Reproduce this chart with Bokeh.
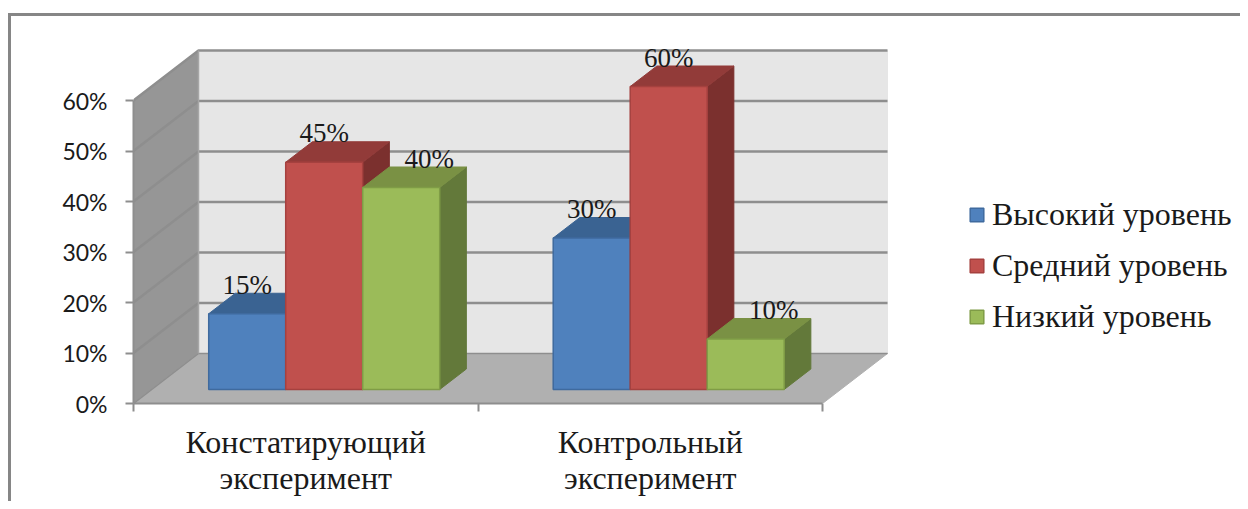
from bokeh.plotting import figure
from bokeh.embed import file_html
from bokeh.resources import INLINE
from bokeh.core.properties import value
from bokeh.models import (FixedTicker, PrintfTickFormatter, Range1d, Legend, LegendItem,
                          LinearAxis)

category_line1 = ["Констатирующий", "Контрольный"]
category_line2 = ["эксперимент", "эксперимент"]
series_names = ["Высокий уровень", "Средний уровень", "Низкий уровень"]
high = [15, 30]
mid = [45, 60]
low = [40, 10]
y_ticks = [0, 10, 20, 30, 40, 50, 60]

front_colors = ["#4F81BD", "#C0504D", "#9BBB59"]
edge_colors = ["#3F6A9E", "#A5413F", "#7F9C46"]
top_colors = ["#3A6392", "#923B39", "#7A9144"]
side_colors = ["#2F5078", "#7B302E", "#63793A"]
GRID = "#8E8E8E"
TEXT = "#1A1A1A"

W, H = 1240, 501
LEFT, BOTTOM = 133, 98
PX_X = 344.5      # pixels per category
PX_Y = 5.05       # pixels per percent
DX = 65 / PX_X    # depth of the 3D box in x units
DY = 50 / PX_Y    # depth of the 3D box in y units
D0, D1 = 0.28, 0.69
GAP = 0.1655
BAR = 0.2235


def pr(x, v, d):
    return x + d * DX, v + d * DY


p = figure(width=W, height=H, output_backend="svg", toolbar_location=None,
           x_range=Range1d(0, (W - LEFT) / PX_X), y_range=Range1d(0, (H - BOTTOM) / PX_Y),
           min_border_left=LEFT, min_border_bottom=BOTTOM, min_border_top=0, min_border_right=0,
           outline_line_color=None, background_fill_alpha=0, border_fill_alpha=0)
p.xgrid.visible = False
p.ygrid.visible = False

# chart border: only the top and left edges are inside the picture
p.styles = {
    "background-image": "linear-gradient(#868686,#868686),linear-gradient(#868686,#868686)",
    "background-size": "100% 3px,3px 100%",
    "background-position": "8px 13px,8px 13px",
    "background-repeat": "no-repeat",
}

n = len(category_line1)
vmax = y_ticks[-1]


def poly(points, fill, line=None, lw=1):
    xs = [a for a, _ in points]
    ys = [b for _, b in points]
    return p.patch(xs, ys, fill_color=fill, line_color=line or fill, line_width=lw)


# walls and floor
poly([pr(0, vmax, 1), pr(n, vmax, 1), pr(n, 0, 1), pr(0, 0, 1)], "#E6E6E6")
poly([pr(0, 0, 0), pr(0, 0, 1), pr(0, vmax, 1), pr(0, vmax, 0)], "#969696")
poly([pr(0, 0, 0), pr(n, 0, 0), pr(n, 0, 1), pr(0, 0, 1)], "#B0B0B0")
for t in y_ticks:
    a, b, c = pr(0, t, 0), pr(0, t, 1), pr(n, t, 1)
    p.line([a[0], b[0], c[0]], [a[1], b[1], c[1]], line_color=GRID, line_width=2.5 if t else 1.5)
a, b = pr(0, 0, 1), pr(0, vmax, 1)
p.line([a[0], b[0]], [a[1], b[1]], line_color="#A6A6A6", line_width=1.5)

# bars
legend_renderers = []
label_shift = [0, 0, 28]
all_series = [high, mid, low]
for c in range(n):
    for s, vals in enumerate(all_series):
        v = vals[c]
        x0 = c + GAP + s * BAR
        x1 = x0 + BAR
        poly([pr(x1, 0, D0), pr(x1, 0, D1), pr(x1, v, D1), pr(x1, v, D0)],
             side_colors[s])
        poly([pr(x0, v, D0), pr(x1, v, D0), pr(x1, v, D1), pr(x0, v, D1)],
             top_colors[s])
        r = poly([pr(x0, 0, D0), pr(x1, 0, D0), pr(x1, v, D0), pr(x0, v, D0)],
                 front_colors[s], edge_colors[s], 1.5)
        if c == 0:
            legend_renderers.append(r)

# data labels
for s, vals in enumerate(all_series):
    xs, ys, txt = [], [], []
    for c in range(n):
        x, y = pr(c + GAP + (s + 0.5) * BAR, vals[c], D0)
        xs.append(x)
        ys.append(y)
        txt.append(f"{vals[c]}%")
    p.text(xs, ys, text=txt, x_offset=label_shift[s], y_offset=-29,
           text_align="center", text_baseline="middle", text_color=TEXT,
           text_font=value("Liberation Serif"), text_font_size="27px")

# axes
yax = p.yaxis[0]
yax.ticker = FixedTicker(ticks=y_ticks)
yax.formatter = PrintfTickFormatter(format="%d%%")
yax.bounds = (0, vmax)
yax.axis_line_color = GRID
yax.axis_line_width = 2
yax.major_tick_line_color = GRID
yax.major_tick_line_width = 2
yax.major_tick_in = 0
yax.major_tick_out = 8
yax.minor_tick_line_color = None
yax.major_label_standoff = 18
yax.major_label_text_font = "Lato"
yax.major_label_text_font_size = "23px"
yax.major_label_text_color = TEXT

mid_ticks = [c + 0.5 for c in range(n)]

xax = p.xaxis[0]
xax.ticker = FixedTicker(ticks=mid_ticks, minor_ticks=[float(c) for c in range(n + 1)])
xax.major_label_overrides = {mid_ticks[c]: category_line1[c] for c in range(n)}
xax.bounds = (0, n)
xax.axis_line_color = GRID
xax.axis_line_width = 2
xax.major_tick_line_color = None
xax.major_tick_in = 0
xax.major_tick_out = 8
xax.minor_tick_line_color = GRID
xax.minor_tick_line_width = 2
xax.minor_tick_in = 0
xax.minor_tick_out = 8
xax.major_label_standoff = 12
xax.major_label_text_font = "Liberation Serif"
xax.major_label_text_font_size = "32px"
xax.major_label_text_color = TEXT

xax2 = LinearAxis(ticker=FixedTicker(ticks=mid_ticks),
                  major_label_overrides={mid_ticks[c]: category_line2[c] for c in range(n)},
                  axis_line_color=None, major_tick_line_color=None, minor_tick_line_color=None,
                  major_tick_in=0, major_tick_out=0, minor_tick_in=0, minor_tick_out=0,
                  major_label_standoff=-3, major_label_text_font="Liberation Serif",
                  major_label_text_font_size="32px", major_label_text_color=TEXT)
p.add_layout(xax2, "below")

# legend
legend = Legend(items=[LegendItem(label=value(series_names[i]), renderers=[legend_renderers[i]])
                       for i in range(3)],
                location=(835, 61), orientation="vertical", border_line_color=None,
                background_fill_alpha=0, padding=0, margin=0, spacing=0,
                glyph_width=17, glyph_height=17, label_standoff=7, label_height=51,
                label_text_font="Liberation Serif", label_text_font_size="32px",
                label_text_color=TEXT, label_text_baseline="middle")
p.add_layout(legend)

open("out.html", "w").write(file_html(p, INLINE))
